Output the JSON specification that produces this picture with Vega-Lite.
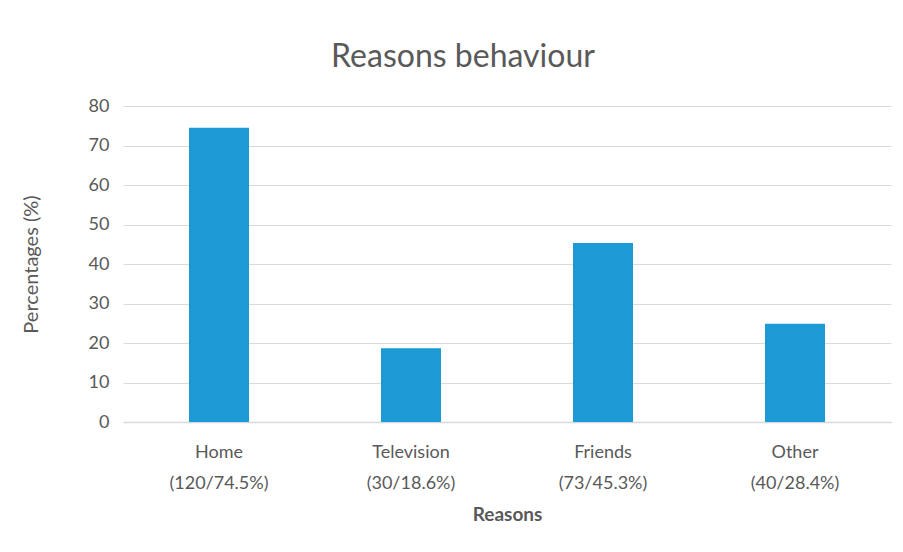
{
  "$schema": "https://vega.github.io/schema/vega-lite/v6.json",
  "autosize": "none",
  "width": 768,
  "height": 316,
  "padding": {"left": 123, "top": 106, "right": 12, "bottom": 130},
  "background": "white",
  "title": {
    "text": "Reasons behaviour",
    "font": "Lato",
    "fontSize": 32,
    "fontWeight": "normal",
    "color": "#595959",
    "anchor": "middle",
    "dx": -44,
    "offset": 23
  },
  "data": {
    "values": [
      {"reason": "Home (120/74.5%)", "percent": 74.5},
      {"reason": "Television (30/18.6%)", "percent": 18.7},
      {"reason": "Friends (73/45.3%)", "percent": 45.3},
      {"reason": "Other (40/28.4%)", "percent": 24.9}
    ]
  },
  "mark": {"type": "bar", "color": "#1b9ad6"},
  "encoding": {
    "x": {
      "field": "reason",
      "type": "nominal",
      "sort": null,
      "scale": {"paddingInner": 0.6875, "paddingOuter": 0.34375},
      "axis": {
        "title": "Reasons",
        "titleFont": "Lato",
        "titleFontSize": 19,
        "titleFontWeight": "bold",
        "titleColor": "#595959",
        "titlePadding": 13,
        "labelExpr": "split(datum.label, ' ')",
        "labelAngle": 0,
        "labelFont": "Lato",
        "labelFontSize": 18,
        "labelColor": "#595959",
        "labelLineHeight": 31,
        "labelPadding": 21,
        "ticks": false,
        "domain": true,
        "domainColor": "#d9d9d9",
        "domainWidth": 1.5
      }
    },
    "y": {
      "field": "percent",
      "type": "quantitative",
      "scale": {"domain": [0, 80]},
      "axis": {
        "title": "Percentages (%)",
        "titleFont": "Lato",
        "titleFontSize": 20,
        "titleFontWeight": "normal",
        "titleColor": "#595959",
        "titlePadding": 47,
        "values": [0, 10, 20, 30, 40, 50, 60, 70, 80],
        "labelFont": "Lato",
        "labelFontSize": 18,
        "labelColor": "#595959",
        "labelPadding": 14,
        "ticks": false,
        "domain": false,
        "grid": true,
        "gridColor": "#d9d9d9",
        "gridWidth": 1.2
      }
    }
  },
  "config": {
    "view": {"stroke": null}
  }
}
